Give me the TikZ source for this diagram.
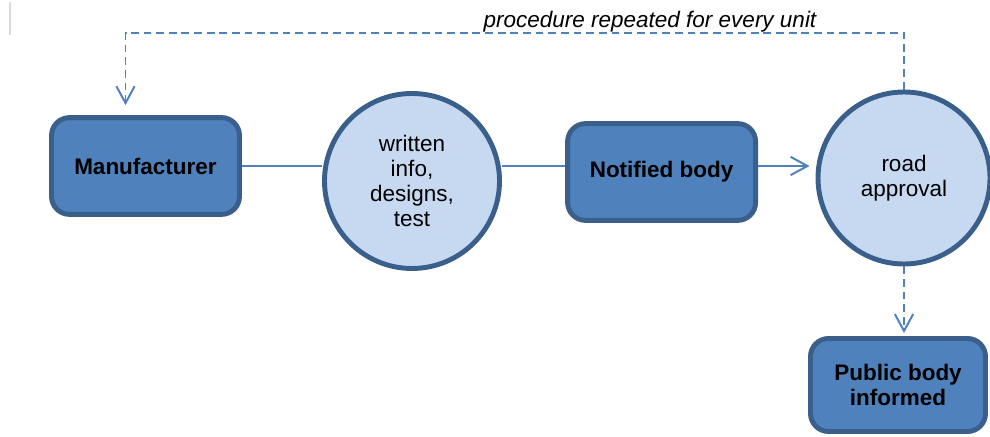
\documentclass[tikz,border=0pt]{standalone}
\usepackage{fontspec}
\setmainfont{Liberation Sans}
\usepackage{xcolor}
\usetikzlibrary{arrows.meta}

\definecolor{boxblue}{HTML}{4F81BD}
\definecolor{edgeblue}{HTML}{3A5F8B}
\definecolor{paleblue}{HTML}{C6D9F1}

\begin{document}
\begin{tikzpicture}[
		bluebox/.style={draw=edgeblue, fill=boxblue, line width=3.5pt, rounded corners=0.45cm,
			minimum width=4.7cm, minimum height=2.42cm, inner sep=0pt, align=center,
			font=\bfseries\fontsize{16}{17.5}\selectfont},
		bluedisc/.style={draw=edgeblue, fill=paleblue, line width=3.5pt, circle, inner sep=0pt,
			align=center, font=\fontsize{16}{18}\selectfont},
		link/.style={draw=boxblue, line width=1.4pt},
		arrowed/.style={-{Straight Barb[length=12pt, width=13pt]}},
		repeatline/.style={link, dash pattern=on 5.5pt off 3.5pt}
	]
			\useasboundingbox (0,0) rectangle (24.75,-10.925);
			\draw[line width=1.4pt, draw=black!15] (0.25,-0.05) -- (0.25,-0.875);

			\node[bluebox] (m) at (3.6375,-4.15) {Manufacturer};
			\node[bluedisc, minimum size=4.375cm] (w) at (10.3,-4.525) {written\\info,\\designs,\\test};
			\node[bluebox] (nb) at (16.54,-4.3) {Notified body};
			\node[bluedisc, minimum size=4.3cm] (ra) at (22.6,-4.45) {road\\approval};
			\node[bluebox, minimum width=4.375cm, minimum height=2.325cm] (pb) at (22.45,-9.625) {Public body\\informed};

			\node[anchor=base, font=\itshape\fontsize{16}{18}\selectfont] (rep) at (16.25,-0.7) {procedure repeated for every unit};

			\draw[link] (m.east) -- (m.east -| w.west);
			\draw[link] (w.east |- m.east) -- (nb.west |- m.east);
			\draw[link, arrowed] (nb.east |- m.east) -- ([xshift=-0.15cm]ra.west |- m.east);

			\draw[repeatline, arrowed] (ra.north) -- ++(0,1.425) -| ([xshift=-0.5cm, yshift=0.25cm]m.north);
			\draw[repeatline, arrowed] (ra.south) -- ([yshift=0.075cm]ra.south |- pb.north);
		\end{tikzpicture}
\end{document}
